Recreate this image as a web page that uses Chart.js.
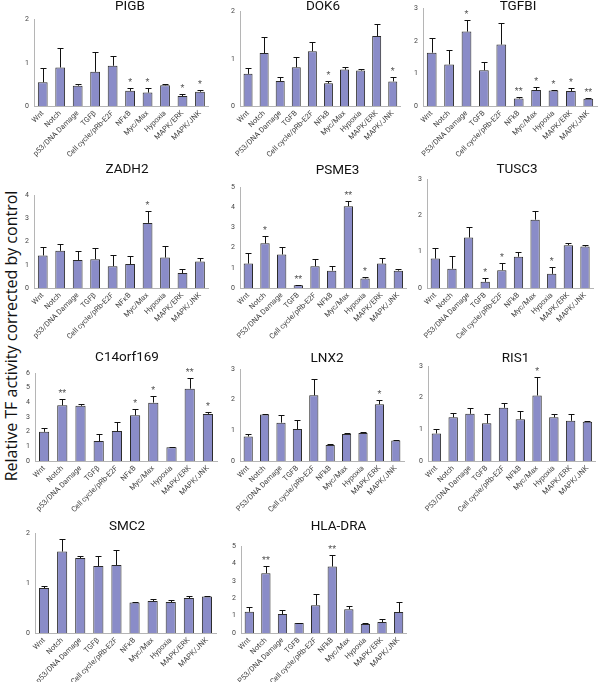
<!DOCTYPE html>
<html><head><meta charset="utf-8">
<script src="https://cdn.jsdelivr.net/npm/chart.js@4/dist/chart.umd.min.js"></script>
<style>
html,body{margin:0;padding:0;background:#fff;width:600px;height:682px;overflow:hidden;position:relative;font-family:Roboto,'Liberation Sans',sans-serif}
canvas{position:absolute}
#ylab{position:absolute;left:11px;top:336px;transform:translate(-50%,-50%) rotate(-90deg);white-space:nowrap;font-size:16px;line-height:1;color:#111;font-family:'Open Sans',Roboto,sans-serif}
</style></head><body>
<div id="ylab">Relative TF activity corrected by control</div>
<script>
const categoriesGreek = ['Wnt','Notch','p53/DNA Damage','TGFβ','Cell cycle/pRb-E2F','NFκB','Myc/Max','Hypoxia','MAPK/ERK','MAPK/JNK'];
const categoriesPlain = ['Wnt','Notch','P53/DNA Damage','TGFB','Cell cycle/pRb-E2F','NFkB','Myc/Max','Hypoxia','MAPK/ERK','MAPK/JNK'];

const pigbValues = [0.55,0.89,0.47,0.79,0.93,0.35,0.31,0.48,0.23,0.33];
const pigbErrors = [0.32,0.44,0.03,0.47,0.22,0.07,0.11,0.03,0.05,0.04];
const pigbStars  = ['','','','','','*','*','','*','*'];

const dok6Values = [0.68,1.12,0.53,0.82,1.16,0.48,0.77,0.75,1.48,0.52];
const dok6Errors = [0.12,0.34,0.08,0.22,0.20,0.04,0.05,0.04,0.25,0.10];
const dok6Stars  = ['','','','','','*','','','','*'];

const tgfbiValues = [1.64,1.28,2.29,1.10,1.89,0.23,0.49,0.48,0.46,0.22];
const tgfbiErrors = [0.45,0.44,0.37,0.26,0.65,0.04,0.09,0.01,0.09,0.02];
const tgfbiStars  = ['','','*','','','**','*','*','*','**'];

const zadh2Values = [1.40,1.60,1.20,1.24,0.94,1.03,2.80,1.31,0.64,1.14];
const zadh2Errors = [0.36,0.29,0.39,0.47,0.49,0.34,0.53,0.48,0.17,0.17];
const zadh2Stars  = ['','','','','','','*','','',''];

const psme3Values = [1.21,2.21,1.66,0.13,1.08,0.86,4.05,0.47,1.21,0.86];
const psme3Errors = [0.53,0.38,0.35,0.04,0.37,0.25,0.24,0.09,0.29,0.09];
const psme3Stars  = ['','*','','**','','','**','*','',''];

const tusc3Values = [0.81,0.53,1.39,0.17,0.49,0.86,1.88,0.39,1.18,1.14];
const tusc3Errors = [0.28,0.36,0.29,0.11,0.20,0.12,0.25,0.19,0.05,0.03];
const tusc3Stars  = ['','','','*','*','','','*','',''];

const c14orf169Values = [1.99,3.80,3.76,1.36,2.04,3.12,3.98,0.93,4.93,3.21];
const c14orf169Errors = [0.29,0.45,0.13,0.45,0.65,0.43,0.48,0.04,0.75,0.14];
const c14orf169Stars  = ['','**','','','','*','*','','**','*'];

const lnx2Values = [0.80,1.52,1.25,1.04,2.14,0.52,0.88,0.91,1.85,0.67];
const lnx2Errors = [0.07,0.02,0.25,0.31,0.53,0.05,0.04,0.05,0.15,0.01];
const lnx2Stars  = ['','','','','','','','','*',''];

const ris1Values = [0.87,1.38,1.49,1.19,1.68,1.32,2.07,1.38,1.27,1.24];
const ris1Errors = [0.14,0.13,0.17,0.28,0.16,0.26,0.59,0.10,0.20,0.02];
const ris1Stars  = ['','','','','','','*','','',''];

const smc2Values = [0.90,1.63,1.50,1.34,1.36,0.61,0.64,0.62,0.70,0.73];
const smc2Errors = [0.05,0.25,0.05,0.21,0.29,0.01,0.04,0.04,0.04,0.02];
const smc2Stars  = ['','','','','','','','','',''];

const hladraValues = [1.22,3.44,1.09,0.57,1.60,3.82,1.37,0.52,0.63,1.20];
const hladraErrors = [0.25,0.43,0.23,0.02,0.67,0.65,0.18,0.05,0.17,0.60];
const hladraStars  = ['','**','','','','**','','','',''];

const yMaxPIGB = 2, yMaxDOK6 = 2, yMaxTGFBI = 3, yMaxZADH2 = 4, yMaxPSME3 = 5, yMaxTUSC3 = 3,
      yMaxC14 = 6, yMaxLNX2 = 3, yMaxRIS1 = 3, yMaxSMC2 = 2, yMaxHLA = 5;

// layout (pixel placement of each panel)
const panels = [
  {title:'PIGB', labels:categoriesGreek, values:pigbValues, errors:pigbErrors, stars:pigbStars, max:yMaxPIGB, tx:130, ty:6.5, L:34, R:208.7, T:19, B:105},
  {title:'DOK6', labels:categoriesPlain, values:dok6Values, errors:dok6Errors, stars:dok6Stars, max:yMaxDOK6, tx:323, ty:6.5, L:240, R:400.8, T:11, B:105},
  {title:'TGFBI', labels:categoriesPlain, values:tgfbiValues, errors:tgfbiErrors, stars:tgfbiStars, max:yMaxTGFBI, tx:518, ty:6.5, L:423, R:597, T:8, B:105},
  {title:'ZADH2', labels:categoriesGreek, values:zadh2Values, errors:zadh2Errors, stars:zadh2Stars, max:yMaxZADH2, tx:127, ty:170, L:34, R:208.7, T:195, B:288},
  {title:'PSME3', labels:categoriesPlain, values:psme3Values, errors:psme3Errors, stars:psme3Stars, max:yMaxPSME3, tx:337, ty:171, L:239.7, R:406.4, T:187, B:288},
  {title:'TUSC3', labels:categoriesPlain, values:tusc3Values, errors:tusc3Errors, stars:tusc3Stars, max:yMaxTUSC3, tx:517, ty:170, L:427, R:593.3, T:179, B:288},
  {title:'C14orf169', labels:categoriesGreek, values:c14orf169Values, errors:c14orf169Errors, stars:c14orf169Stars, max:yMaxC14, tx:127, ty:358, L:35, R:217, T:373, B:461},
  {title:'LNX2', labels:categoriesPlain, values:lnx2Values, errors:lnx2Errors, stars:lnx2Stars, max:yMaxLNX2, tx:327, ty:359, L:240, R:404, T:369, B:461},
  {title:'RIS1', labels:categoriesPlain, values:ris1Values, errors:ris1Errors, stars:ris1Stars, max:yMaxRIS1, tx:515, ty:359, L:427.6, R:595.4, T:366, B:461},
  {title:'SMC2', labels:categoriesGreek, values:smc2Values, errors:smc2Errors, stars:smc2Stars, max:yMaxSMC2, tx:127, ty:527, L:35, R:216, T:533, B:633},
  {title:'HLA-DRA', labels:categoriesPlain, values:hladraValues, errors:hladraErrors, stars:hladraStars, max:yMaxHLA, tx:338, ty:527, L:240.7, R:406.6, T:546, B:633}
];

const BAR_FILL = 'rgb(138,140,200)';
const BAR_EDGE = '#2b2b2b';
const FONT = "Roboto,'Liberation Sans',sans-serif";

const errorBarPlugin = {
  id:'errorBars',
  afterDatasetsDraw(chart){
    const ctx = chart.ctx, ys = chart.scales.y;
    const ds = chart.data.datasets[0];
    const meta = chart.getDatasetMeta(0);
    ctx.save();
    ctx.strokeStyle = '#111';
    ctx.lineWidth = 1;
    meta.data.forEach((bar,i)=>{
      const v = ds.data[i], e = ds.errors[i];
      const x = Math.round(bar.x) + 0.5;
      const yTop = Math.round(ys.getPixelForValue(v + e)) + 0.5;
      ctx.beginPath();
      ctx.moveTo(x, bar.y);
      ctx.lineTo(x, yTop);
      ctx.moveTo(x - 3, yTop);
      ctx.lineTo(x + 3, yTop);
      ctx.stroke();
      const s = ds.stars[i];
      if (s) {
        ctx.fillStyle = '#555';
        ctx.font = '9px ' + FONT;
        ctx.textAlign = 'center';
        ctx.textBaseline = 'alphabetic';
        ctx.fillText(s, bar.x, yTop - 4);
      }
    });
    ctx.restore();
  }
};

const panelTitlePlugin = {
  id:'panelTitle',
  afterDraw(chart, args, opts){
    const ctx = chart.ctx;
    ctx.save();
    ctx.fillStyle = '#111';
    ctx.font = '13.5px ' + FONT;
    ctx.textAlign = 'center';
    ctx.textBaseline = 'middle';
    ctx.fillText(opts.text, chart.width / 2, 8);
    ctx.restore();
  }
};

const X_AXIS_H = 60;

panels.forEach(p=>{
  const half = Math.max(p.tx - (p.L - 14), p.R + 8 - p.tx);
  const cl = p.tx - half, cr = p.tx + half;
  const ct = p.ty - 8;
  const w = Math.round(cr - cl), h = Math.round(p.B - ct + X_AXIS_H);
  const cv = document.createElement('canvas');
  cv.width = w; cv.height = h;
  cv.style.left = cl + 'px'; cv.style.top = ct + 'px';
  cv.style.width = w + 'px'; cv.style.height = h + 'px';
  document.body.appendChild(cv);
  const yW = p.L - cl;
  new Chart(cv, {
    type:'bar',
    data:{labels:p.labels, datasets:[{data:p.values, errors:p.errors, stars:p.stars,
      backgroundColor:BAR_FILL, borderColor:BAR_EDGE, borderWidth:1, borderSkipped:'start',
      barPercentage:0.56, categoryPercentage:1}]},
    options:{
      responsive:false, animation:false, devicePixelRatio:1,
      layout:{padding:{top:p.T - ct, right:w - (p.R - cl), left:0, bottom:0}},
      plugins:{legend:{display:false}, tooltip:{enabled:false}, title:{display:false}, panelTitle:{text:p.title}},
      scales:{
        x:{offset:true, grid:{display:false, drawTicks:false}, border:{display:true, color:'#b5b5b5'},
           ticks:{autoSkip:false, minRotation:45, maxRotation:45, padding:3, color:'#444', font:{size:7.5, family:FONT}},
           afterFit(s){ s.height = X_AXIS_H; }},
        y:{min:0, max:p.max, grid:{display:false, drawTicks:false}, border:{display:true, color:'#b5b5b5'},
           ticks:{stepSize:1, padding:5, color:'#444', font:{size:7, family:FONT}},
           afterFit(s){ s.width = yW; }}
      }
    },
    plugins:[errorBarPlugin, panelTitlePlugin]
  });
});
</script>
</body></html>
